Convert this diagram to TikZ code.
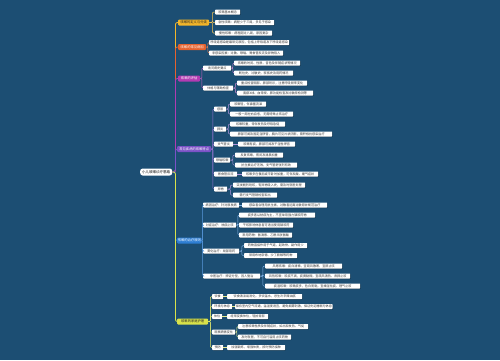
\documentclass[tikz,border=0pt]{standalone}
\usepackage{fontspec}
\usetikzlibrary{shadows}
\newfontfamily\cjk{Noto Sans CJK SC}
\definecolor{bg}{HTML}{1C4E73}
\definecolor{cA}{HTML}{F2B52A}
\definecolor{cB}{HTML}{E5622E}
\definecolor{cC}{HTML}{B23BB2}
\definecolor{cD}{HTML}{7B52C6}
\definecolor{cE}{HTML}{2E7ED3}
\definecolor{cF}{HTML}{D9E24A}
\begin{document}
\begin{tikzpicture}[x=1pt,y=-1pt,
  lf/.style={fill=white, rounded corners=0.6pt, font=\cjk\fontsize{3.1}{3.5}\selectfont, text=black!80, inner sep=0.6pt, minimum height=5pt, anchor=west, drop shadow={shadow xshift=0.5pt, shadow yshift=-0.5pt, opacity=0.35, fill=black}},
  br/.style={fill=#1, rounded corners=1pt, font=\cjk\fontsize{3.3}{3.7}\selectfont, text=white, inner sep=0.6pt, minimum height=6pt, anchor=west},
  rootn/.style={fill=white, rounded corners=2.5pt, font=\cjk\fontsize{3.5}{4}\selectfont, text=black, inner sep=0.8pt, minimum height=7pt, anchor=west},
  elb/.style={to path={-- ++(#1,0) |- (\tikztotarget)}},
  trk/.style={draw=#1, line width=0.8pt, rounded corners=2pt},
  ln/.style={draw=#1, line width=0.5pt, rounded corners=1pt},
]
\fill[bg] (0,0) rectangle (500,360);
\useasboundingbox (0,0) rectangle (500,360);

% root
\node[rootn, minimum width=32pt] (root) at (140,172) {小儿咳嗽诊疗思路};

% branches
\node[br=cA, text=black!85, minimum width=31pt] (b1) at (178,22.5) {咳嗽的定义与分类};
\node[br=cB, minimum width=28pt] (b2) at (178,47) {咳嗽的常见病因};
\node[br=cC, minimum width=22pt] (b3) at (178,78.5) {咳嗽的评估};
\node[br=cD, minimum width=34pt] (b4) at (177,149) {常见疾病的咳嗽特点};
\node[br=cE, minimum width=24pt] (b5) at (177,240.5) {咳嗽的治疗原则};
\node[br=cF, text=black!85, minimum width=31pt] (b6) at (177,321.5) {咳嗽的家庭护理};

% branch 1
\node[lf, minimum width=25pt] (a1) at (215,12) {咳嗽基本概念};
\node[lf, minimum width=59pt] (a2) at (215,22.5) {急性咳嗽：病程少于三周，多见于感染};
\node[lf, minimum width=57pt] (a3) at (215,33) {慢性咳嗽：病程超过八周，原因复杂};

% branch 2
\node[lf, minimum width=80pt] (d1) at (209,42.5) {呼吸道感染是最常见原因，包括上呼吸道及下呼吸道感染};
\node[lf, minimum width=74pt] (d2) at (209,53) {非感染因素：过敏、哮喘、胃食管反流及异物吸入};

% branch 3
\node[lf, minimum width=28pt] (e1) at (203,68) {询问病史要点};
\node[lf, minimum width=66pt] (e11) at (234,63) {咳嗽的时间、性质、音色及伴随症状等情况};
\node[lf, minimum width=59pt] (e12) at (234,73) {既往史、过敏史、家族史及用药情况};
\node[lf, minimum width=30pt] (e2) at (203,88) {体格与辅助检查};
\node[lf, minimum width=70pt] (e21) at (237,83) {重点检查咽部、肺部听诊，注意呼吸频率变化};
\node[lf, minimum width=76pt] (e22) at (237,93) {胸部X线、血常规、肺功能检查及过敏原检测等};

% branch 4
\node[lf, minimum width=12pt] (f1) at (214,109) {感冒};
\node[lf, minimum width=36pt] (f11) at (230,104) {咳嗽轻，伴鼻塞流涕};
\node[lf, minimum width=63pt] (f12) at (230,114) {一般一周左右自愈，无需特殊止咳治疗};
\node[lf, minimum width=12pt] (f2) at (214,129) {肺炎};
\node[lf, minimum width=55pt] (f21) at (230,124) {咳嗽较重，常伴发热及呼吸急促};
\node[lf, minimum width=102pt] (f22) at (230,134) {肺部可闻及固定湿啰音，胸片可见片状阴影，需积极抗感染治疗};
\node[lf, minimum width=19pt] (f3) at (214,144) {支气管炎};
\node[lf, minimum width=57pt] (f31) at (238,144) {咳嗽有痰，肺部可闻及干湿性啰音};
\node[lf, minimum width=16pt] (f4) at (214,160) {哮喘咳嗽};
\node[lf, minimum width=48pt] (f41) at (235,155) {反复咳嗽，夜间及清晨加重};
\node[lf, minimum width=62pt] (f42) at (235,165) {抗生素治疗无效，支气管舒张剂有效};
\node[lf, minimum width=23pt] (f5) at (214,174) {胃食管反流};
\node[lf, minimum width=76pt] (f51) at (242,174) {咳嗽多在餐后或平卧时加重，可伴反酸、嗳气症状};
\node[lf, minimum width=13pt] (f6) at (214,189) {异物};
\node[lf, minimum width=72pt] (f61) at (233,185) {突发剧烈呛咳，有异物吸入史，需及时就医处理};
\node[lf, minimum width=44pt] (f62) at (233,195) {需行支气管镜检查取出};

% branch 5
\node[lf, minimum width=36pt] (g1) at (203,205) {病因治疗：针对原发病};
\node[lf, minimum width=85pt] (g11) at (242,205) {感染者合理用抗生素，过敏者远离过敏原并规范治疗};
\node[lf, minimum width=33pt] (g2) at (203,225) {对症治疗：祛痰止咳};
\node[lf, minimum width=76pt] (g21) at (239,215) {痰多者以祛痰为主，不宜单用强力镇咳药物};
\node[lf, minimum width=54pt] (g22) at (239,225) {干咳影响休息者可适当使用镇咳药};
\node[lf, minimum width=53pt] (g23) at (239,235) {常用药物：氨溴索、乙酰半胱氨酸};
\node[lf, minimum width=36pt] (g3) at (203,251) {雾化治疗：局部用药};
\node[lf, minimum width=63pt] (g31) at (244,245.5) {药物直接作用于气道，起效快、副作用少};
\node[lf, minimum width=53pt] (g32) at (244,255.5) {常用布地奈德、沙丁胺醇等药物};
\node[lf, minimum width=57pt] (g4) at (203,276) {中医治疗：辨证分型，因人施治};
\node[lf, minimum width=77pt] (g41) at (265,266) {风寒咳嗽：痰白清稀，宜疏风散寒、宣肺止咳};
\node[lf, minimum width=85pt] (g42) at (265,276) {风热咳嗽：咳痰不爽，痰黄黏稠，宜疏风清热、肃肺止咳};
\node[lf, minimum width=95pt] (g43) at (265,286) {痰湿咳嗽：咳嗽痰多，色白而黏，宜燥湿化痰、理气止咳};

% branch 6
\node[lf, minimum width=11pt] (h1) at (212,296.5) {饮食};
\node[lf, minimum width=75pt] (h11) at (227,296.5) {饮食清淡易消化，多饮温水，忌生冷辛辣油腻};
\node[lf, minimum width=20pt] (h2) at (212,306.5) {环境与休息};
\node[lf, minimum width=97pt] (h21) at (235,306.5) {保持室内空气流通，温湿度适宜，避免烟雾刺激，保证充足睡眠与休息};
\node[lf, minimum width=10pt] (h3) at (212,316.5) {体位};
\node[lf, minimum width=41pt] (h31) at (227,316.5) {经常变换体位，轻拍背部};
\node[lf, minimum width=23pt] (h4) at (212,332) {观察病情变化};
\node[lf, minimum width=70pt] (h41) at (238,326.5) {注意咳嗽性质及伴随症状，如出现发热、气促};
\node[lf, minimum width=53pt] (h42) at (238,337) {及时就医，不可自行滥用止咳药物};
\node[lf, minimum width=11pt] (h5) at (212,347.5) {预防};
\node[lf, minimum width=58pt] (h51) at (227,347.5) {加强锻炼，增强体质，按时预防接种};

% trunk connectors
\draw[trk=cA] (root.east) to[elb=3] (b1.west);
\draw[trk=cB] (root.east) to[elb=3] (b2.west);
\draw[trk=cC] (root.east) to[elb=3] (b3.west);
\draw[trk=cD] (root.east) to[elb=3] (b4.west);
\draw[trk=cE] (root.east) to[elb=3] (b5.west);
\draw[trk=cF] (root.east) to[elb=3] (b6.west);

% sub connectors
\foreach \n in {a1,a2,a3} \draw[ln=cA!80!white] (b1.east) to[elb=3] (\n.west);
\foreach \n in {d1,d2} \draw[ln=cB!80!white] (b2.east) to[elb=1.5] (\n.west);
\foreach \n in {e1,e2} \draw[ln=cC!80!white] (b3.east) to[elb=1.5] (\n.west);
\foreach \n in {e11,e12} \draw[ln=cC!60!white] (e1.east) to[elb=1.5] (\n.west);
\foreach \n in {e21,e22} \draw[ln=cC!60!white] (e2.east) to[elb=2] (\n.west);
\foreach \n in {f1,f2,f3,f4,f5,f6} \draw[ln=cD!80!white] (b4.east) to[elb=1.5] (\n.west);
\foreach \n in {f11,f12} \draw[ln=cD!60!white] (f1.east) to[elb=2] (\n.west);
\foreach \n in {f21,f22} \draw[ln=cD!60!white] (f2.east) to[elb=2] (\n.west);
\draw[ln=cD!60!white] (f3.east) -- (f31.west);
\foreach \n in {f41,f42} \draw[ln=cD!60!white] (f4.east) to[elb=2.5] (\n.west);
\draw[ln=cD!60!white] (f5.east) -- (f51.west);
\foreach \n in {f61,f62} \draw[ln=cD!60!white] (f6.east) to[elb=3] (\n.west);
\foreach \n in {g1,g2,g3,g4} \draw[ln=cE!80!white] (b5.east) to[elb=1] (\n.west);
\draw[ln=cE!60!white] (g1.east) -- (g11.west);
\foreach \n in {g21,g22,g23} \draw[ln=cE!60!white] (g2.east) to[elb=1.5] (\n.west);
\foreach \n in {g31,g32} \draw[ln=cE!60!white] (g3.east) to[elb=2.5] (\n.west);
\foreach \n in {g41,g42,g43} \draw[ln=cE!60!white] (g4.east) to[elb=2.5] (\n.west);
\foreach \n in {h1,h2,h3,h4,h5} \draw[ln=cF!80!white] (b6.east) to[elb=2] (\n.west);
\draw[ln=cF!60!white] (h1.east) -- (h11.west);
\draw[ln=cF!60!white] (h2.east) -- (h21.west);
\draw[ln=cF!60!white] (h3.east) -- (h31.west);
\foreach \n in {h41,h42} \draw[ln=cF!60!white] (h4.east) to[elb=1.5] (\n.west);
\draw[ln=cF!60!white] (h5.east) -- (h51.west);
\end{tikzpicture}
\end{document}
